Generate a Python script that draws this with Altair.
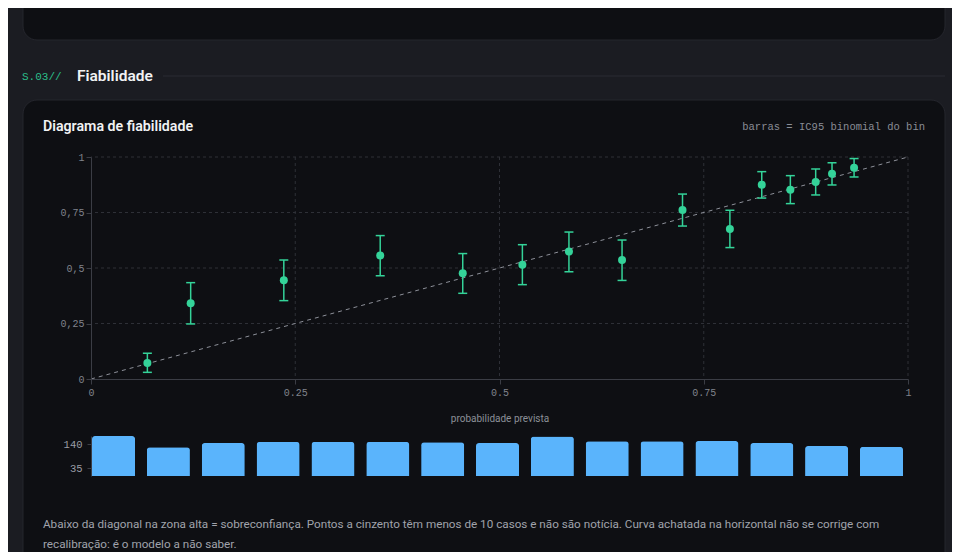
import altair as alt
import pandas as pd

# reliability bins: mean predicted prob, observed frequency, 95% binomial CI
pred = [0.069, 0.122, 0.236, 0.354, 0.455, 0.528, 0.585, 0.650, 0.724, 0.782, 0.821, 0.856, 0.887, 0.907, 0.934]
obs = [0.072, 0.341, 0.445, 0.556, 0.476, 0.515, 0.574, 0.536, 0.761, 0.676, 0.875, 0.853, 0.887, 0.925, 0.952]
ci_lo = [0.030, 0.248, 0.353, 0.465, 0.386, 0.425, 0.483, 0.444, 0.689, 0.592, 0.815, 0.790, 0.829, 0.874, 0.910]
ci_hi = [0.116, 0.434, 0.536, 0.646, 0.565, 0.605, 0.662, 0.626, 0.833, 0.760, 0.934, 0.916, 0.946, 0.974, 0.993]
# cases per bin (histogram under the diagram)
counts = [175, 126, 144, 149, 149, 149, 148, 144, 173, 152, 152, 153, 144, 131, 128]
axis_ticks = [0, 0.25, 0.5, 0.75, 1]
grid_ticks = [0.25, 0.5, 0.75, 1]
count_ticks = [35, 140]

section_tag = "S.03//"
section_name = "Fiabilidade"
title = "Diagrama de fiabilidade"
note = "barras = IC95 binomial do bin"
x_title = "probabilidade prevista"
foot_1 = ("Abaixo da diagonal na zona alta = sobreconfiança. Pontos a cinzento têm menos de 10 casos "
          "e não são notícia. Curva achatada na horizontal não se corrige com")
foot_2 = "recalibração: é o modelo a não saber."

GREEN = "#34d399"
BLUE = "#5ab4fc"
PAGE = "#1b1c22"
CARD = "#0e0f13"
BORDER = "#25262d"
GRID = "#2e3037"
AXIS = "#3b3d45"
LABEL = "#80838c"
MONO = "Liberation Mono"
SANS = "Roboto"

bins = pd.DataFrame({"p": pred, "obs": obs, "lo": ci_lo, "hi": ci_hi})
hist = pd.DataFrame({"bin": list(range(1, len(counts) + 1)), "n": counts})
diag = pd.DataFrame({"p": [0, 1], "obs": [0, 1]})
grid = pd.DataFrame({"p": grid_ticks, "obs": grid_ticks})
one = pd.DataFrame({"k": [0]})

# %% page decoration (pixel positions relative to plot area)
def card(y0, y1):
    return alt.Chart(one).mark_rect(
        fill=CARD, stroke=BORDER, strokeWidth=1, cornerRadius=14
    ).encode(x=alt.value(-68), x2=alt.value(854), y=alt.value(y0), y2=alt.value(y1))

def label(text, x, y, size, color, font=SANS, weight="normal", align="left"):
    return alt.Chart(one).mark_text(
        text=text, font=font, fontSize=size, color=color, fontWeight=weight,
        align=align, baseline="middle"
    ).encode(x=alt.value(x), y=alt.value(y))

top_card = card(-220, -117)
main_card = card(-57, 430)
header_line = alt.Chart(one).mark_rule(color="#2a2b33", strokeWidth=1).encode(
    x=alt.value(72), x2=alt.value(854), y=alt.value(-81)
)
decor = [
    top_card, main_card, header_line,
    label(section_tag, -69, -80.5, 11, "#2bbf8a", font=MONO),
    label(section_name, -14, -81, 15.5, "#f1f2f4", weight=600),
    label(title, -48, -30.5, 14.2, "#f1f2f4", weight=600),
    label(note, 834, -30.5, 10.5, "#8a8d96", font=MONO, align="right"),
    label(foot_1, -48, 367, 11.7, "#a0a3ab"),
    label(foot_2, -48, 387, 11.7, "#a0a3ab"),
]

# %% reliability diagram
x_scale = alt.Scale(domain=[0, 1], nice=False, zero=False)
y_scale = alt.Scale(domain=[0, 1], nice=False, zero=False)

x_axis = alt.Axis(
    values=axis_ticks, format=".2~f", grid=False, labelFlush=False, zindex=1, orient="bottom",
    domainColor=AXIS, tickColor=AXIS, tickSize=5, labelPadding=3,
    labelFont=MONO, labelFontSize=10, labelColor=LABEL,
    title=x_title, titleFont=SANS, titleFontSize=10, titleFontWeight="normal",
    titleColor="#8c8f97", titlePadding=16,
)
y_axis = alt.Axis(
    values=axis_ticks, format=".2~f", grid=False, labelFlush=False, zindex=1, orient="left",
    domainColor=AXIS, tickColor=AXIS, tickSize=5, labelPadding=2,
    labelFont=MONO, labelFontSize=10, labelColor=LABEL,
    labelExpr="replace(datum.label, '.', ',')", title=None,
)
X = alt.X("p:Q", scale=x_scale, axis=x_axis, title=x_title)

def Y(field):
    return alt.Y(field, type="quantitative", scale=y_scale, axis=y_axis, title=None)

xgrid = alt.Chart(grid).mark_rule(color=GRID, strokeDash=[3, 3], strokeWidth=1).encode(x=X)
ygrid = alt.Chart(grid).mark_rule(color=GRID, strokeDash=[3, 3], strokeWidth=1).encode(y=Y("obs"))
diag_line = alt.Chart(diag).mark_line(color="#8d9099", strokeDash=[4, 4], strokeWidth=1).encode(
    x=X, y=Y("obs")
)
err = alt.Chart(bins).mark_rule(color=GREEN, strokeWidth=1.5).encode(x=X, y=Y("lo"), y2="hi:Q")
cap_lo = alt.Chart(bins).mark_tick(color=GREEN, orient="horizontal", size=9, thickness=1.5, opacity=1).encode(
    x=X, y=Y("lo")
)
cap_hi = alt.Chart(bins).mark_tick(color=GREEN, orient="horizontal", size=9, thickness=1.5, opacity=1).encode(
    x=X, y=Y("hi")
)
points = alt.Chart(bins).mark_circle(color=GREEN, size=64, opacity=1).encode(x=X, y=Y("obs"))
main = alt.layer(xgrid, ygrid, diag_line, err, cap_lo, cap_hi, points)

# %% cases per bin, drawn under the diagram
bars = alt.Chart(hist).mark_bar(color=BLUE, cornerRadiusTopLeft=3, cornerRadiusTopRight=3).encode(
    x=alt.X("bin:O", scale=alt.Scale(range=[1, 812], paddingInner=0.215, paddingOuter=0), axis=None),
    y=alt.Y("n:Q", scale=alt.Scale(domain=[0, 175], range=[319, 279], nice=False),
            axis=alt.Axis(values=count_ticks, grid=False, orient="left", zindex=1,
                          domainColor=AXIS, tickColor=AXIS, tickSize=4, labelPadding=5,
                          labelFont=MONO, labelFontSize=10.5, labelColor="#9a9da5", title=None)),
)

chart = alt.layer(*decor, main, bars).resolve_scale(
    x="independent", y="independent"
).properties(
    width=817, height=222,
    padding={"left": 83, "top": 149, "right": 44, "bottom": 173},
    autosize=alt.AutoSizeParams(type="none"),
).configure(background=PAGE).configure_view(stroke="transparent")

chart.save("out.html", embed_options={"renderer": "svg", "actions": False})
